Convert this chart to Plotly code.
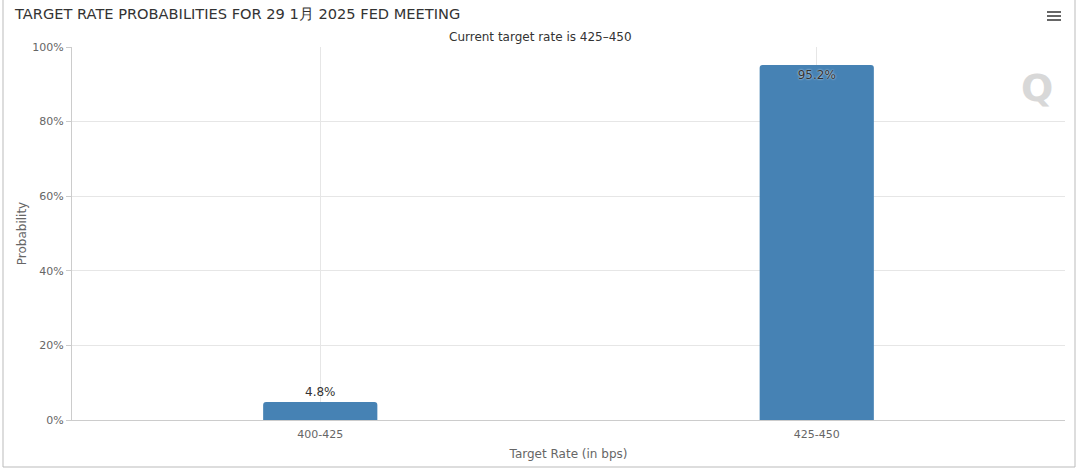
import plotly.graph_objects as go

categories = ["400-425", "425-450"]
probabilities = [4.8, 95.2]
labels = ["4.8%", "95.2%"]
y_ticks = [0, 20, 40, 60, 80, 100]

W, H = 1080, 471
L, R, T, B = 72, 1065, 47, 420  # plot area pixel edges

def px(x):
    return (x - L) / (R - L)

def py(y):
    return (B - y) / (B - T)

fig = go.Figure()
fig.add_trace(go.Bar(
    x=categories,
    y=probabilities,
    text=labels,
    textposition=["outside", "inside"],
    insidetextanchor="end",
    textfont=dict(size=12, color="#333333", family="DejaVu Sans"),
    outsidetextfont=dict(size=12, color="#333333", family="DejaVu Sans"),
    insidetextfont=dict(size=12, color="#333333", family="DejaVu Sans",
                        shadow="0px 0px 2px white"),
    marker=dict(color="#4682B4", cornerradius=3, line=dict(width=0)),
    width=0.23,
    cliponaxis=False,
    hoverinfo="x+y",
))

fig.update_layout(
    width=W, height=H,
    margin=dict(l=L, r=W - R, t=T, b=H - B),
    paper_bgcolor="white",
    plot_bgcolor="white",
    showlegend=False,
    font=dict(family="DejaVu Sans", color="#666666", size=11),
    xaxis=dict(
        showgrid=True, gridcolor="#e6e6e6", gridwidth=1,
        showline=True, linecolor="#cccccc", linewidth=1,
        ticks="", tickfont=dict(size=11, color="#666666"),
        ticklabelstandoff=4,
        title=dict(text="Target Rate (in bps)", font=dict(size=12, color="#666666"), standoff=9),
        fixedrange=True,
    ),
    yaxis=dict(
        range=[0, 100],
        tickvals=y_ticks,
        ticktext=[f"{v}%" for v in y_ticks],
        showgrid=True, gridcolor="#e6e6e6", gridwidth=1,
        showline=True, linecolor="#cccccc", linewidth=1,
        ticks="outside", ticklen=5, tickcolor="#cccccc",
        tickfont=dict(size=11, color="#666666"),
        title=dict(text="Probability", font=dict(size=12, color="#666666"), standoff=3),
        zeroline=False,
        fixedrange=True,
    ),
    annotations=[
        dict(text="TARGET RATE PROBABILITIES FOR 29 1月 2025 FED MEETING",
             xref="paper", yref="paper", x=px(12), y=py(14), xanchor="left", yanchor="middle",
             showarrow=False, font=dict(size=14.6, color="#333333", family="DejaVu Sans")),
        dict(text="Current target rate is 425–450",
             xref="paper", yref="paper", x=px(540), y=py(37), xanchor="center", yanchor="middle",
             showarrow=False, font=dict(size=12, color="#333333", family="DejaVu Sans")),
        dict(text="<b>Q</b>",
             xref="paper", yref="paper", x=px(1037), y=py(88), xanchor="center", yanchor="middle",
             showarrow=False, font=dict(size=38, color="#d8d8d8", family="DejaVu Sans")),
    ],
    shapes=[
        # frame
        dict(type="line", xref="paper", yref="paper", x0=px(3), x1=px(3), y0=py(0), y1=py(467),
             line=dict(color="#bbbbbb", width=1)),
        dict(type="line", xref="paper", yref="paper", x0=px(1075), x1=px(1075), y0=py(0), y1=py(467),
             line=dict(color="#bbbbbb", width=1)),
        dict(type="line", xref="paper", yref="paper", x0=px(3), x1=px(1075), y0=py(467), y1=py(467),
             line=dict(color="#bbbbbb", width=1)),
        # hamburger menu
        *[dict(type="line", xref="paper", yref="paper", x0=px(1047), x1=px(1061), y0=py(yy), y1=py(yy),
               line=dict(color="#666666", width=2)) for yy in (12, 16, 20)],
    ],
)

fig.write_html("out.html", config={"displayModeBar": False},
               post_script="document.body.style.margin='0';document.body.style.overflow='hidden';")
